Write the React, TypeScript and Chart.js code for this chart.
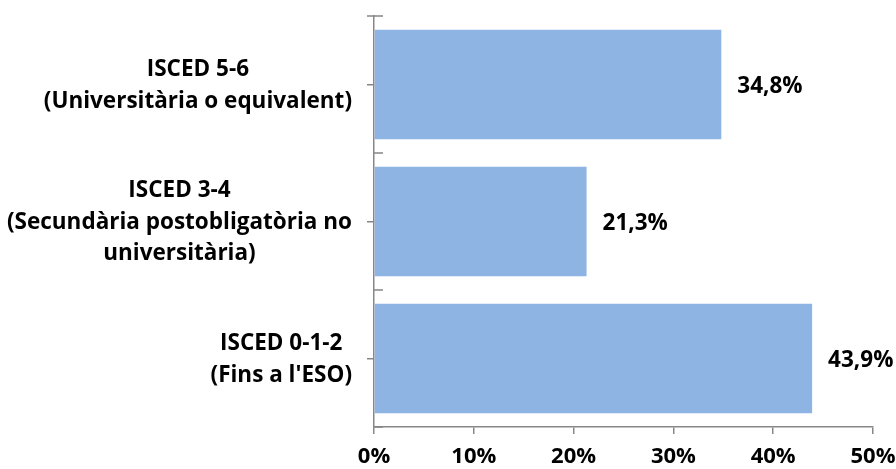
import React, { useEffect, useRef } from "react";
import { Chart, registerables } from "chart.js";

Chart.register(...registerables);

const categories: string[][] = [
  ["ISCED 5-6", "(Universitària o equivalent)"],
  ["ISCED 3-4", "(Secundària postobligatòria no", "universitària)"],
  ["ISCED 0-1-2", "(Fins a l'ESO)"],
];
const values: number[] = [34.8, 21.3, 43.9];
const xTicks: number[] = [0, 10, 20, 30, 40, 50];

const FONT = "'Open Sans'";
const barColor = "rgb(142,180,227)";
const axisColor = "#878787";

const valueLabels = {
  id: "valueLabels",
  afterDatasetsDraw(chart: any) {
    const ctx = chart.ctx;
    const meta = chart.getDatasetMeta(0);
    ctx.save();
    ctx.font = `bold 22.5px ${FONT}`;
    ctx.fillStyle = "#000";
    ctx.textAlign = "left";
    ctx.textBaseline = "middle";
    meta.data.forEach((bar: any, i: number) => {
      ctx.fillText(values[i].toFixed(1).replace(".", ",") + "%", bar.x + 16, bar.y + 2);
    });
    ctx.restore();
  },
};

const categoryLabels = {
  id: "categoryLabels",
  afterDraw(chart: any) {
    const ctx = chart.ctx;
    const scale = chart.scales.y;
    const right = chart.chartArea.left - 22;
    const lh = 31.5;
    ctx.save();
    ctx.font = `bold 22.5px ${FONT}`;
    ctx.fillStyle = "#000";
    ctx.textAlign = "center";
    ctx.textBaseline = "middle";
    categories.forEach((lines, i) => {
      const widest = Math.max(...lines.map((l) => ctx.measureText(l).width));
      const cx = right - widest / 2;
      const cy = scale.getPixelForTick(i) + 1;
      lines.forEach((l, j) => {
        ctx.fillText(l, cx, cy + (j - (lines.length - 1) / 2) * lh);
      });
    });
    ctx.restore();
  },
};

const innerTicks = {
  id: "innerTicks",
  afterDraw(chart: any) {
    const ctx = chart.ctx;
    const y = chart.scales.y;
    const x0 = chart.chartArea.left;
    ctx.save();
    ctx.strokeStyle = axisColor;
    ctx.lineWidth = 1.5;
    ctx.beginPath();
    for (let i = 0; i <= categories.length; i++) {
      const py = Math.round(y.getPixelForValue(i - 0.5));
      ctx.moveTo(x0 - (i === 0 ? 7 : 0), py);
      ctx.lineTo(x0 + 9, py);
    }
    ctx.stroke();
    ctx.restore();
  },
};

export default function App() {
  const ref = useRef<HTMLCanvasElement | null>(null);
  useEffect(() => {
    document.body.style.margin = "0";
    const chart = new Chart(ref.current!, {
      type: "bar",
      data: {
        labels: categories,
        datasets: [
          {
            data: values,
            backgroundColor: barColor,
            borderWidth: 0,
            categoryPercentage: 0.8,
            barPercentage: 1,
          },
        ],
      },
      options: {
        indexAxis: "y",
        animation: false,
        responsive: false,
        layout: { padding: { top: 16, right: 23, left: 0, bottom: 0 } },
        plugins: { legend: { display: false }, tooltip: { enabled: false } },
        scales: {
          x: {
            min: 0,
            max: 50,
            afterBuildTicks: (s: any) => {
              s.ticks = xTicks.map((v) => ({ value: v }));
            },
            afterFit: (s: any) => {
              s.height = 42;
              s.paddingRight = 0;
              s.paddingLeft = 0;
            },
            ticks: {
              color: "#000",
              font: { family: FONT, weight: "bold", size: 22 },
              padding: 10,
              maxRotation: 0,
              callback: (v: any) => v + "%",
            },
            grid: { drawOnChartArea: false, tickLength: 7, color: axisColor, lineWidth: 1.5 },
            border: { color: axisColor, width: 1.5 },
          },
          y: {
            afterFit: (s: any) => {
              s.width = 374;
              s.paddingTop = 0;
              s.paddingBottom = 0;
            },
            ticks: { display: false },
            grid: { drawOnChartArea: false, offset: false, tickLength: 7, color: axisColor, lineWidth: 1.5 },
            border: { color: axisColor, width: 1.5 },
          },
        },
      },
      plugins: [valueLabels, categoryLabels, innerTicks],
    });
    return () => chart.destroy();
  }, []);
  return <canvas ref={ref} width={896} height={469} style={{ display: "block" }} />;
}
